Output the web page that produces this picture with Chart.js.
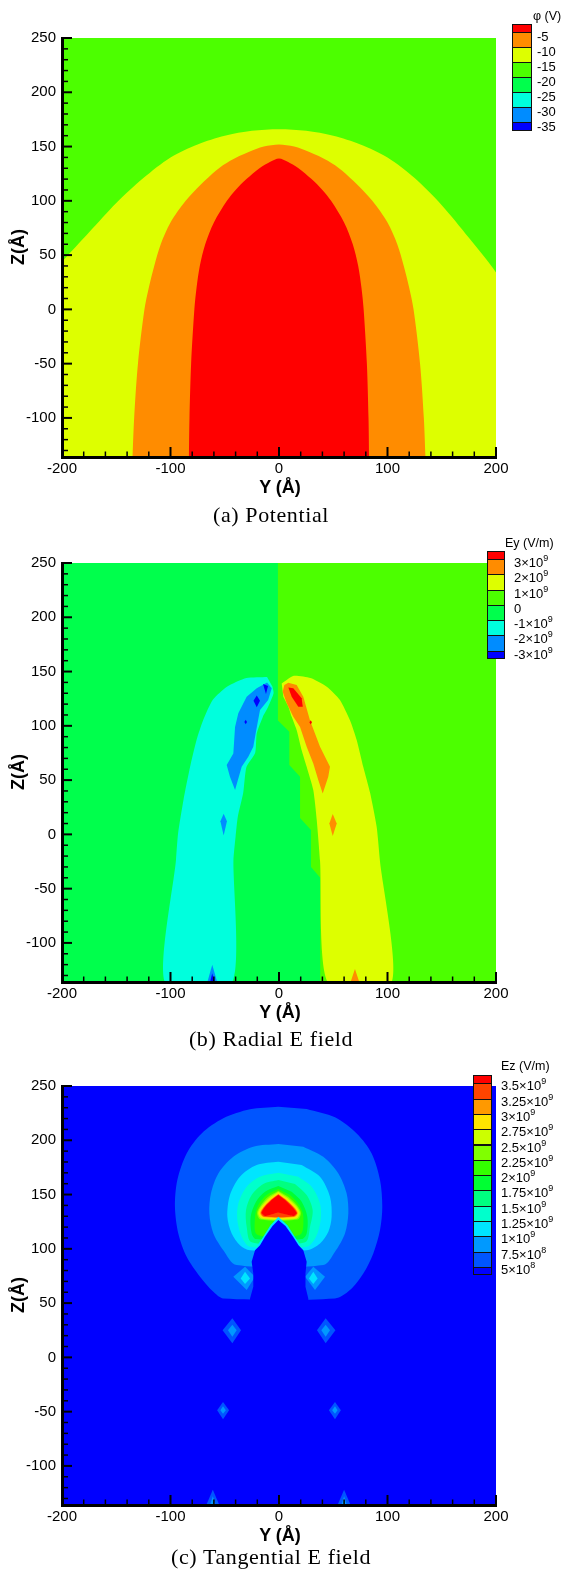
<!DOCTYPE html>
<html>
<head>
<meta charset="utf-8">
<script src="https://cdn.jsdelivr.net/npm/chart.js@4/dist/chart.umd.min.js"></script>
<style>
  body { margin: 0; background: #fff; }
  #page { position: relative; width: 562px; height: 1569px; overflow: hidden;
          font-family: "Liberation Sans", Arial, sans-serif; color: #000; }
  .panel { position: absolute; left: 0; width: 562px; height: 525px; }
  .panel canvas { position: absolute; left: 0; top: 0; }
  .ztitle, .ytitle { position: absolute; font-weight: bold; font-size: 18px; white-space: nowrap;
                     line-height: 1; }
  .ztitle { transform: translate(-50%, -50%) rotate(-90deg); }
  .ytitle { transform: translate(-50%, -50%); }
  .caption { position: absolute; transform: translate(-50%, -50%); white-space: nowrap;
             font-family: "Liberation Serif", "Times New Roman", serif; font-size: 22px;
             letter-spacing: 0.6px; line-height: 1; }
  .lgbox { position: absolute; box-sizing: border-box; border: 1px solid #111; }
  .lglabel { position: absolute; font-size: 13px; line-height: 1; white-space: nowrap;
             transform: translateY(-50%); }
  .lglabel sup { font-size: 9px; vertical-align: 6px; line-height: 0; }
  .lgtitle { position: absolute; font-size: 12.5px; line-height: 1; white-space: nowrap;
             transform: translateY(-50%); }
</style>
</head>
<body>
<div id="page">
  <div class="panel" id="panelA" style="top:0px">
    <canvas id="chartPhi" width="562" height="500"></canvas>
    <div class="ztitle" style="left:18px;top:247px">Z(Å)</div>
    <div class="ytitle" style="left:280px;top:487px">Y (Å)</div>
    <div class="caption" style="left:271px;top:515px">(a) Potential</div>
  </div>
  <div class="panel" id="panelB" style="top:525px">
    <canvas id="chartEy" width="562" height="500"></canvas>
    <div class="ztitle" style="left:18px;top:247px">Z(Å)</div>
    <div class="ytitle" style="left:280px;top:487px">Y (Å)</div>
    <div class="caption" style="left:271px;top:514px">(b) Radial E field</div>
  </div>
  <div class="panel" id="panelC" style="top:1048px">
    <canvas id="chartEz" width="562" height="500"></canvas>
    <div class="ztitle" style="left:18px;top:247px">Z(Å)</div>
    <div class="ytitle" style="left:280px;top:487px">Y (Å)</div>
    <div class="caption" style="left:271px;top:509px">(c) Tangential E field</div>
  </div>
</div>
<script>
// ---------- axes ----------
const yTickValues = [-200, -100, 0, 100, 200];
const zTickValues = [-100, -50, 0, 50, 100, 150, 200, 250];
const yRange = [-200, 200];
const zRange = [-136, 250];

// ---------- (a) potential φ (V) ----------
const phiLegendLabels = ['-5', '-10', '-15', '-20', '-25', '-30', '-35'];
const phiColors = ['#ff0000', '#ff8c00', '#ddff00', '#4cff00', '#00ff4c', '#00ffdd', '#008cff', '#0000ff'];
const phiField = [[-200, 250], [200, 250], [200, -136], [-200, -136]];
const phiAboveMinus15 = [[-200, 44], [-175, 71], [-150, 98], [-125, 121], [-100, 140], [-75, 152],
  [-50, 160], [-25, 164.5], [0, 166], [25, 164.5], [50, 160], [75, 152], [100, 140], [125, 121], [150, 96],
  [175, 66], [200, 34], [200, 28], [200, -136], [-200, -136]];
const phiAboveMinus10 = [[-135, -136], [-133.5, -100], [-130, -50], [-124, 0], [-120, 20], [-115, 40], [-109, 60],
  [-100, 80], [-86, 100], [-72, 115], [-58, 128], [-45, 137], [-28, 145], [-14, 150], [0, 152], [14, 150],
  [28, 145], [45, 137], [58, 128], [72, 115], [86, 100], [100, 80], [109, 60], [115, 40], [120, 20], [124, 0],
  [130, -50], [133.5, -100], [135, -136]];
const phiAboveMinus5 = [[-83, -136], [-82.5, -100], [-81, -50], [-78, 0], [-76, 20], [-73, 40], [-68, 60],
  [-60, 80], [-48, 100], [-40, 110], [-30, 120], [-18, 130], [-8, 136], [0, 139], [8, 136], [18, 130],
  [30, 120], [40, 110], [48, 100], [60, 80], [68, 60], [73, 40], [76, 20], [78, 0], [81, -50], [82.5, -100],
  [83, -136]];

// ---------- (b) radial field Ey (V/m) ----------
const eyLegendLabels = ['3×10^9', '2×10^9', '1×10^9', '0', '-1×10^9', '-2×10^9', '-3×10^9'];
const eyColors = ['#ff0000', '#ff8c00', '#ddff00', '#4cff00', '#00ff4c', '#00ffdd', '#008cff', '#0000ff'];
const eyField = [[-200, 250], [200, 250], [200, -136], [-200, -136]];
const eyBelow0 = [[-200, 250], [-1, 250], [-1, 105], [9.5, 94.5], [9.5, 64], [19.4, 53], [19.4, 15], [29.5, 4],
  [29.5, -30], [38, -40], [38, -136], [-200, -136]];
const eyBelowMinus1 = [[-11, 145], [-30, 144], [-48, 136], [-61, 124], [-70, 105], [-76, 87], [-82, 62], [-88, 32],
  [-93, 1], [-95, -24], [-105, -136], [-43, -136], [-42, -24], [-40, -2], [-38, 16], [-33, 38], [-30, 62],
  [-22, 75], [-20.5, 93], [-15, 108], [-10, 117.5], [-5, 130], [-6, 136]];
const eyBelowMinus2 = [[-11, 140], [-6.7, 134.5], [-10, 123.7], [-17.5, 114.5], [-21, 96], [-23.7, 80.7],
  [-28.3, 71.5], [-34.4, 62.3], [-40.5, 40.8], [-45.2, 53], [-48.2, 63.8], [-42.1, 74.6], [-40.5, 99],
  [-37.5, 111.5], [-29.8, 126.8], [-20.5, 134.5]];
const eyBelowMinus2Spot = [[-51, 19], [-48, 12], [-51, -1], [-54, 12]];
const eyBelowMinus2Foot = [[-66, -136], [-61.5, -120], [-57, -136]];
const eyBelowMinus3Tip = [[-14.7, 138.5], [-10.1, 136.6], [-12, 129.3]];
const eyBelowMinus3Spot = [[-20.5, 128], [-17.5, 123], [-20.5, 117], [-23.5, 123]];
const eyBelowMinus3Dot = [[-30.7, 105.5], [-29.5, 103.5], [-30.7, 101.5], [-31.9, 103.5]];
const eyBelowMinus3Foot = [[-63.5, -136], [-61.5, -128], [-59.5, -136]];
const eyAbove1 = [[2.5, 139], [13, 146], [29, 144], [44, 136], [56, 124], [65.5, 105], [71.6, 87], [77.7, 62],
  [84, 38], [90, 7], [93, -24], [104, -136], [45, -136], [37.8, -24], [34.8, 13], [31.6, 40.8], [25.5, 62.3],
  [20.9, 77.6], [16.3, 96], [11.7, 108.3], [8.6, 117.6], [4, 126.8]];
const eyAbove2 = [[8.6, 139.7], [16.3, 137.6], [22.4, 126.8], [28.6, 105], [37.8, 80.7], [44, 68.4], [47, 62.3],
  [45.4, 53], [40.3, 37.7], [36.2, 50], [31.6, 65.4], [25.5, 80.7], [19.4, 99], [13.2, 108.3], [7.1, 120.7],
  [3.4, 131.4], [4.9, 137.6]];
const eyAbove2Spot = [[49.5, 18.7], [53.2, 10], [49.5, -1.6], [46.4, 10]];
const eyAbove2Foot = [[66, -136], [70, -124], [74, -136]];
const eyAbove3 = [[8.6, 135.4], [13.2, 134.5], [20.9, 125.3], [21.9, 117.6], [17.8, 117.6], [11.7, 126.8]];
const eyAbove3Dot = [[29.2, 105.2], [30.4, 103.2], [29.2, 101.2], [28, 103.2]];

// ---------- (c) tangential field Ez (V/m) ----------
const ezLegendLabels = ['3.5×10^9', '3.25×10^9', '3×10^9', '2.75×10^9', '2.5×10^9', '2.25×10^9', '2×10^9',
  '1.75×10^9', '1.5×10^9', '1.25×10^9', '1×10^9', '7.5×10^8', '5×10^8'];
const ezColors = ['#ff0000', '#ff4400', '#ff9900', '#ffe500', '#ccff00', '#80ff00', '#33ff00', '#00ff33',
  '#00ff80', '#00ffcc', '#00e5ff', '#0099ff', '#0055ff', '#0000ff'];
const ezField = [[-200, 250], [200, 250], [200, -136], [-200, -136]];
const ezAbove5e8 = [[-0.6, 230.9], [-26.7, 228.5], [-51.3, 220.2], [-71.3, 206.3], [-85.1, 187.9], [-93.7, 163.3],
  [-95.9, 138.8], [-92.8, 114.2], [-85.1, 92.7], [-72.8, 74.3], [-60.5, 60.4], [-51.3, 54.3], [51.6, 54.3],
  [65.4, 62], [77.7, 77.3], [86.9, 95.8], [93.1, 117.3], [95.2, 138.8], [93.1, 163.3], [85.4, 187.9],
  [71.6, 206.3], [51.6, 221.1], [25.5, 228.8]];
const ezAbove7p5e8 = [[-0.6, 196.5], [-23.7, 194.1], [-42.1, 184.8], [-55.9, 169.5], [-62.7, 151.1], [-64.2, 132.6],
  [-60.5, 114.2], [-51.3, 98.8], [-39, 85], [40.8, 85], [51.6, 97.3], [60.8, 114.2], [63.9, 132.6],
  [62.3, 151.1], [54.7, 169.5], [40.8, 184.8], [22.4, 194.1]];
const ezAbove1e9 = [[-0.6, 180.2], [-20.6, 177.2], [-36, 166.4], [-45.2, 149.5], [-47.6, 129.5], [-43.6, 114.2],
  [-36, 103.4], [-26.7, 98.8], [25.5, 98.8], [37.8, 105], [45.5, 115.7], [48.5, 129.5], [47, 148],
  [37.8, 166.4], [20.9, 177.2]];
const ezAbove1p25e9 = [[-0.6, 170.1], [-17.5, 166.4], [-29.8, 157.2], [-37.5, 141.8], [-38.4, 126.5], [-34.4, 111.1],
  [-26.7, 101.9], [25.5, 101.9], [34.1, 111.1], [38.4, 126.5], [37.8, 141.8], [30.1, 157.2], [17.8, 166.4]];
const ezAbove1p5e9 = [[-0.6, 163.3], [-14.5, 159.7], [-25.2, 149.5], [-30.4, 135.7], [-29.8, 120.3], [-25.2, 106],
  [24, 106], [28.6, 120.3], [31, 135.7], [25.5, 149.5], [14.7, 159.7]];
const ezAbove1p75e9 = [[-0.6, 157.8], [-12.9, 152.6], [-21.2, 143.4], [-26.1, 129.5], [-25.2, 114.2], [-21.2, 109],
  [20.9, 109], [25.5, 114.2], [26.1, 129.5], [20.9, 143.4], [11.7, 152.6]];
const ezAbove2e9 = [[-0.6, 155], [-11.4, 149.5], [-19.1, 140.3], [-22.1, 129.5], [-20, 113], [19.3, 113],
  [22.4, 129.5], [18.7, 140.3], [10.1, 149.5]];
const ezAbove2p25e9 = [[-0.6, 153.4], [-10.2, 147.7], [-17, 140], [-20.3, 133], [-17, 127], [17, 127], [20.3, 133],
  [16.8, 140], [9, 147.7]];
const ezAbove2p5e9 = [[-0.6, 152.5], [-9.2, 146.9], [-16, 139.6], [-19.3, 133], [-16, 127.8], [16, 127.8],
  [19.3, 133], [15.8, 139.5], [8.2, 146.9]];
const ezAbove2p75e9 = [[-0.6, 151.5], [-8.3, 146.2], [-15, 139.2], [-18.3, 133], [-15, 128.5], [15, 128.5],
  [18.3, 133], [14.8, 139], [7.4, 146.2]];
const ezAbove3e9 = [[-0.6, 150.6], [-7.5, 145.5], [-14, 138.8], [-17.3, 133], [-14, 129.3], [14, 129.3],
  [17.3, 133], [13.8, 138.5], [6.5, 145.5]];
const ezAbove3p25e9 = [[-0.6, 150], [-7, 145.2], [-13.5, 138.6], [-16.6, 133.1], [-13.5, 129.8], [13.5, 129.8],
  [16.6, 133.1], [13.2, 138.4], [6, 145.2]];
const ezAbove3p5e9 = [[-0.6, 149.5], [5.5, 145], [12.6, 138], [16.3, 132.8], [13.2, 130.2], [4.1, 132.2],
  [-0.6, 133.5], [-6.8, 131.8], [-12.9, 130.2], [-16, 133.2], [-12.9, 138.5], [-6.8, 145]];
const ezNotchEdge = [[-0.6, 129.5], [-8, 121.5], [-15, 110.5], [-20, 103], [-18, 100], [18, 100], [20, 103],
  [15, 110.5], [8, 121.5]];
const ezNotch = [[-0.6, 126.5], [-6, 121], [-12.9, 111.1], [-17.5, 103.4], [-22.1, 98.8], [-25.2, 88.1],
  [-23.7, 77.3], [-23.7, 65], [-26.7, 54.3], [-26.7, 50], [27, 50], [27, 54.3], [24.4, 65], [24.4, 77.3],
  [25.5, 88.1], [22.4, 98.8], [18, 103.4], [13, 111.1], [6, 121]];
const ezSpotOuterLeft = [[-31.3, 83.5], [-22.1, 74.3], [-29.8, 62], [-42.1, 74.3]];
const ezSpotInnerLeft = [[-31.3, 78.9], [-26.7, 72.7], [-31.3, 67.5], [-35.3, 72.7]];
const ezSpotOuterRight = [[31.6, 83.5], [42.4, 74.3], [33.2, 62], [24, 74.3]];
const ezSpotInnerRight = [[31.6, 78.9], [35.6, 72.7], [31.6, 67.5], [27.6, 72.7]];
const ezBlob25Left = [[-43, 36], [-35, 25], [-43, 13], [-52, 25]];
const ezBlob25LeftCore = [[-43, 30], [-39, 25], [-43, 19], [-47, 25]];
const ezBlob25Right = [[43, 36], [52, 25], [43, 13], [35, 25]];
const ezBlob25RightCore = [[43, 30], [47, 25], [43, 19], [39, 25]];
const ezBlobM49Left = [[-51.6, -41], [-46, -48.6], [-51.6, -57], [-57, -48.6]];
const ezBlobM49LeftCore = [[-51.6, -45], [-49, -48.6], [-51.6, -52], [-54, -48.6]];
const ezBlobM49Right = [[51.6, -41], [57, -48.6], [51.6, -57], [46, -48.6]];
const ezBlobM49RightCore = [[51.6, -45], [54, -48.6], [51.6, -52], [49, -48.6]];
const ezFootLeft = [[-67, -136], [-61, -122], [-55, -136]];
const ezFootLeftCore = [[-63.5, -136], [-61, -128], [-58.5, -136]];
const ezFootRight = [[54, -136], [60, -122], [66, -136]];
const ezFootRightCore = [[57.5, -136], [60, -128], [62.5, -136]];

// ---------- drawing ----------
Chart.defaults.font.family = "'Liberation Sans', Arial, sans-serif";
Chart.defaults.color = '#000';

function polygonDataset(points, color, tension) {
  return {
    data: points.map(([y, z]) => ({ x: y, y: z })),
    showLine: true,
    fill: 'shape',
    backgroundColor: color,
    borderColor: color,
    borderWidth: 0,
    pointRadius: 0,
    pointHoverRadius: 0,
    tension: tension || 0
  };
}

// tick marks pointing into the plot, majors and minors
const inwardTicks = {
  id: 'inwardTicks',
  afterDatasetsDraw(chart) {
    const { ctx, chartArea: area, scales: { x, y } } = chart;
    ctx.save();
    ctx.strokeStyle = '#000';
    ctx.lineCap = 'butt';
    const drawX = (v, len, w) => {
      const px = x.getPixelForValue(v);
      ctx.lineWidth = w;
      ctx.beginPath(); ctx.moveTo(px, area.bottom); ctx.lineTo(px, area.bottom - len); ctx.stroke();
    };
    const drawY = (v, len, w) => {
      const py = y.getPixelForValue(v);
      ctx.lineWidth = w;
      ctx.beginPath(); ctx.moveTo(area.left, py); ctx.lineTo(area.left + len, py); ctx.stroke();
    };
    for (let v = yRange[0]; v <= yRange[1]; v += 20) {
      if (!yTickValues.includes(v)) drawX(v, 5.5, 1.5);
    }
    yTickValues.forEach(v => drawX(v, 10, 2));
    for (let v = -130; v <= zRange[1]; v += 10) {
      if (!zTickValues.includes(v)) drawY(v, 6, 1.5);
    }
    zTickValues.forEach(v => drawY(v, 10, 2));
    ctx.restore();
  }
};

function makeChart(canvasId, layers) {
  const datasets = layers.map(([pts, color, tension], i) =>
    Object.assign(polygonDataset(pts, color, tension), { order: layers.length - i }));
  return new Chart(document.getElementById(canvasId), {
    type: 'scatter',
    data: { datasets },
    plugins: [inwardTicks],
    options: {
      responsive: false,
      animation: false,
      devicePixelRatio: 1,
      events: [],
      layout: { padding: { top: 38, right: 66, left: 0, bottom: 0 } },
      plugins: { legend: { display: false }, tooltip: { enabled: false } },
      scales: {
        x: {
          type: 'linear', min: yRange[0], max: yRange[1],
          afterBuildTicks: s => { s.ticks = yTickValues.map(v => ({ value: v })); },
          afterFit: s => { s.height = 43; },
          ticks: { font: { size: 15 }, padding: 3, maxRotation: 0, autoSkip: false, color: '#000' },
          grid: { display: false, drawTicks: false },
          border: { display: true, color: '#000', width: 3, z: 1 }
        },
        y: {
          type: 'linear', min: zRange[0], max: zRange[1],
          afterBuildTicks: s => { s.ticks = zTickValues.map(v => ({ value: v })); },
          afterFit: s => { s.width = 62; },
          ticks: { font: { size: 15 }, padding: 6, autoSkip: false, color: '#000' },
          grid: { display: false, drawTicks: false },
          border: { display: true, color: '#000', width: 3, z: 1 }
        }
      }
    }
  });
}

const SMOOTH = 0.3;

makeChart('chartPhi', [
  [phiField, phiColors[3]],
  [phiAboveMinus15, phiColors[2], SMOOTH],
  [phiAboveMinus10, phiColors[1], SMOOTH],
  [phiAboveMinus5, phiColors[0], SMOOTH]
]);

makeChart('chartEy', [
  [eyField, eyColors[3]],
  [eyBelow0, eyColors[4]],
  [eyBelowMinus1, eyColors[5], 0.2],
  [eyBelowMinus2, eyColors[6]],
  [eyBelowMinus2Spot, eyColors[6]],
  [eyBelowMinus2Foot, eyColors[6]],
  [eyBelowMinus3Tip, eyColors[7]],
  [eyBelowMinus3Spot, eyColors[7]],
  [eyBelowMinus3Dot, eyColors[7]],
  [eyBelowMinus3Foot, eyColors[7]],
  [eyAbove1, eyColors[2], 0.2],
  [eyAbove2, eyColors[1]],
  [eyAbove2Spot, eyColors[1]],
  [eyAbove2Foot, eyColors[1]],
  [eyAbove3, eyColors[0]],
  [eyAbove3Dot, eyColors[0]]
]);

makeChart('chartEz', [
  [ezField, ezColors[13]],
  [ezAbove5e8, ezColors[12], SMOOTH],
  [ezAbove7p5e8, ezColors[11], SMOOTH],
  [ezSpotOuterLeft, ezColors[11]],
  [ezSpotOuterRight, ezColors[11]],
  [ezSpotInnerLeft, ezColors[10]],
  [ezSpotInnerRight, ezColors[10]],
  [ezBlob25Left, ezColors[12]],
  [ezBlob25LeftCore, ezColors[11]],
  [ezBlob25Right, ezColors[12]],
  [ezBlob25RightCore, ezColors[11]],
  [ezBlobM49Left, ezColors[12]],
  [ezBlobM49LeftCore, ezColors[11]],
  [ezBlobM49Right, ezColors[12]],
  [ezBlobM49RightCore, ezColors[11]],
  [ezFootLeft, ezColors[12]],
  [ezFootLeftCore, ezColors[11]],
  [ezFootRight, ezColors[12]],
  [ezFootRightCore, ezColors[11]],
  [ezAbove1e9, ezColors[10], SMOOTH],
  [ezAbove1p25e9, ezColors[9], SMOOTH],
  [ezAbove1p5e9, ezColors[8], SMOOTH],
  [ezAbove1p75e9, ezColors[7], SMOOTH],
  [ezAbove2e9, ezColors[6], SMOOTH],
  [ezAbove2p25e9, ezColors[5], SMOOTH],
  [ezAbove2p5e9, ezColors[4], SMOOTH],
  [ezAbove2p75e9, ezColors[3], SMOOTH],
  [ezAbove3e9, ezColors[2], SMOOTH],
  [ezAbove3p25e9, ezColors[1], SMOOTH],
  [ezAbove3p5e9, ezColors[0], 0.15],
  [ezNotchEdge, ezColors[10]],
  [ezNotch, ezColors[13]]
]);

// ---------- colour bars ----------
function labelHtml(text) {
  const parts = text.split('^');
  return parts.length === 2 ? parts[0] + '<sup>' + parts[1] + '</sup>' : text;
}
function colourBar(panelId, colors, labels, title, geo) {
  const host = document.getElementById(panelId);
  const n = colors.length;
  let y = geo.top;
  const heights = colors.map((c, i) => i === 0 ? geo.first : (i === n - 1 ? geo.last : geo.step));
  colors.forEach((c, i) => {
    const box = document.createElement('div');
    box.className = 'lgbox';
    box.style.left = geo.left + 'px';
    box.style.top = y + 'px';
    box.style.width = geo.width + 'px';
    box.style.height = (heights[i] + 1) + 'px';
    box.style.background = c;
    host.appendChild(box);
    y += heights[i];
    if (i < labels.length) {
      const lab = document.createElement('div');
      lab.className = 'lglabel';
      lab.style.left = geo.labelLeft + 'px';
      lab.style.top = (y + geo.labelShift) + 'px';
      lab.innerHTML = labelHtml(labels[i]);
      host.appendChild(lab);
    }
  });
  const t = document.createElement('div');
  t.className = 'lgtitle';
  t.style.left = geo.titleLeft + 'px';
  t.style.top = geo.titleY + 'px';
  t.textContent = title;
  host.appendChild(t);
}

colourBar('panelA', phiColors, phiLegendLabels, 'φ (V)',
  { left: 512, width: 20, top: 24, first: 8.3, step: 15, last: 7.3, labelLeft: 537, labelShift: 3.5,
    titleLeft: 533, titleY: 16 });
colourBar('panelB', eyColors, eyLegendLabels, 'Ey (V/m)',
  { left: 487, width: 18, top: 26, first: 8, step: 15.28, last: 7.6, labelLeft: 514, labelShift: 3,
    titleLeft: 505, titleY: 18 });
colourBar('panelC', ezColors, ezLegendLabels, 'Ez (V/m)',
  { left: 473, width: 19, top: 27, first: 8.3, step: 15.3, last: 7.6, labelLeft: 501, labelShift: 2,
    titleLeft: 501, titleY: 18 });
</script>
</body>
</html>
